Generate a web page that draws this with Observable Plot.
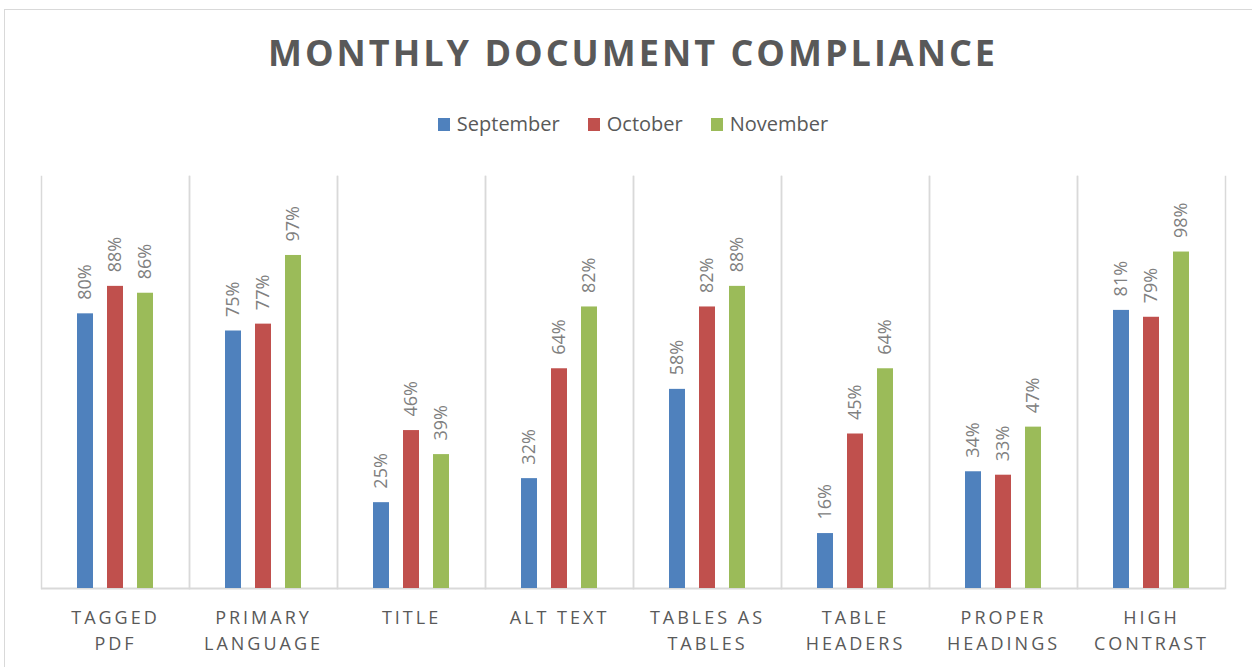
<!DOCTYPE html>
<html><head><meta charset="utf-8">
<script src="https://cdn.jsdelivr.net/npm/d3@7"></script>
<script src="https://cdn.jsdelivr.net/npm/@observablehq/plot@0.6"></script>
<style>
body{margin:0;background:#fff;width:1252px;height:667px;overflow:hidden;position:relative;font-family:"Open Sans",sans-serif}
#frame{position:absolute;left:4px;top:9px;width:1262px;height:700px;border:1px solid #d9d9d9;box-sizing:border-box}
#title{position:absolute;left:4px;width:1258px;top:28px;text-align:center;font-weight:bold;font-size:36px;letter-spacing:3px;color:#595959;line-height:50px}
#legend{position:absolute;left:4px;width:1258px;top:110px;display:flex;justify-content:center;gap:28px;font-size:20px;color:#595959;line-height:28px}
.item{display:flex;align-items:center;gap:7px}
.sw{width:12px;height:13px;display:inline-block}
#chart{position:absolute;left:0;top:160px}
#chart [aria-label="fx-axis tick label"] text{letter-spacing:3px}
</style>
</head><body>
<div id="frame"></div>
<div id="title">MONTHLY DOCUMENT COMPLIANCE</div>
<div id="legend"></div>
<div id="chart"></div>
<script>
const categories = ["Tagged PDF","Primary Language","Title","Alt Text","Tables as Tables","Table Headers","Proper Headings","High Contrast"];
const tickLabels = ["TAGGED\nPDF","PRIMARY\nLANGUAGE","TITLE","ALT TEXT","TABLES AS\nTABLES","TABLE\nHEADERS","PROPER\nHEADINGS","HIGH\nCONTRAST"];
const series = ["September","October","November"];
const colors = ["#4f81bd","#c0504d","#9bbb59"];
const september = [80,75,25,32,58,16,34,81];
const october = [88,77,46,64,82,45,33,79];
const november = [86,97,39,82,88,64,47,98];
const seriesValues = [september, october, november];

const data = [];
categories.forEach((c,i)=>series.forEach((s,j)=>data.push({category:c, series:s, value:seriesValues[j][i]})));

const legend = document.getElementById("legend");
series.forEach((s,j)=>{
  const it = document.createElement("div"); it.className="item";
  const sw = document.createElement("span"); sw.className="sw"; sw.style.background=colors[j];
  const t = document.createElement("span"); t.textContent=s;
  it.appendChild(sw); it.appendChild(t); legend.appendChild(it);
});

const chart = Plot.plot({
  width:1252, height:507, marginTop:16, marginBottom:79, marginLeft:38, marginRight:24,
  style:{background:"transparent", fontFamily:"'Open Sans', sans-serif"},
  fx:{domain:categories, padding:0},
  x:{domain:series, paddingInner:0.475, paddingOuter:1.176, axis:null},
  y:{domain:[0,120], axis:null},
  color:{domain:series, range:colors},
  marks:[
    Plot.frame({anchor:"left", stroke:"#d9d9d9", strokeWidth:1.5}),
    Plot.frame({anchor:"right", stroke:"#d9d9d9", strokeWidth:1.5}),
    Plot.ruleY([0], {stroke:"#d9d9d9", strokeWidth:2}),
    Plot.barY(data, {fx:"category", x:"series", y:"value", fill:"series"}),
    Plot.text(data, {fx:"category", x:"series", y:"value", text:d=>d.value+"%", rotate:-90, textAnchor:"start", dy:-14, fontSize:18, fill:"#808080"}),
    Plot.axisFx({anchor:"bottom", tickSize:0, tickPadding:18, fontSize:18, lineHeight:1.4, fill:"#595959", label:null,
      tickFormat:d=>tickLabels[categories.indexOf(d)]})
  ]
});
document.getElementById("chart").appendChild(chart);
</script>
</body></html>
